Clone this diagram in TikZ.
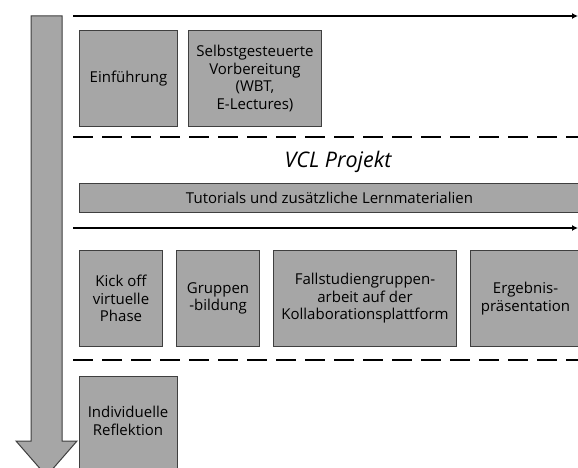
\documentclass[tikz,border=0pt]{standalone}
\usepackage{fontspec}
\setmainfont{Open Sans}
\usetikzlibrary{arrows.meta}
\definecolor{boxgray}{HTML}{A6A6A6}
\definecolor{boxline}{HTML}{3F3F3F}
\tikzset{
  stagebox/.style={draw=boxline, fill=boxgray, line width=1pt, align=center,
    inner sep=0pt, anchor=north west, font=\fontsize{15}{17.4}\selectfont, text=black},
  timeline/.style={line width=2pt, -{Latex[length=6pt,width=6pt]}},
  sepline/.style={line width=2pt, dash pattern=on 20pt off 9pt},
}
\begin{document}
\begin{tikzpicture}[x=1pt,y=-1pt]
\useasboundingbox (0,0) rectangle (578,468);
\clip (0,0) rectangle (578,468);
\fill[white] (0,0) rectangle (578,468);
% big vertical arrow
\draw[draw=boxline, fill=boxgray, line width=1pt]
  (31,16) -- (62,16) -- (62,441) -- (77,441) -- (46.5,476) -- (16,441) -- (31,441) -- cycle;
% top timeline
\coordinate (t1s) at (73,16);
\coordinate (t1e) at (578,16);
\draw[timeline] (t1s) -- (t1e);
\node[stagebox, minimum width=98pt, minimum height=96pt] (einf) at (79,30) {Einführung};
\node[stagebox, minimum width=133pt, minimum height=96pt] (selbst) at (188,30)
  {Selbstgesteuerte\\Vorbereitung\\(WBT,\\E-Lectures)};
% dashed separator 1
\coordinate (d1s) at (73,137);
\coordinate (d1e) at (590,137);
\draw[sepline] (d1s) -- (d1e);
\node[font=\fontsize{21.5}{25}\selectfont\itshape, text=black] (vcl) at (338,162) {VCL Projekt};
\node[stagebox, minimum width=500pt, minimum height=29pt] (tut) at (79,183)
  {Tutorials und zusätzliche Lernmaterialien};
% second timeline
\coordinate (t2s) at (73,228);
\coordinate (t2e) at (578,228);
\draw[timeline] (t2s) -- (t2e);
\node[stagebox, minimum width=83pt, minimum height=96pt] (kick) at (79,250)
  {Kick off\\virtuelle\\Phase};
\node[stagebox, minimum width=83pt, minimum height=96pt] (grup) at (176,250)
  {Gruppen\\-bildung};
\node[stagebox, minimum width=183pt, minimum height=96pt] (fall) at (273,250)
  {Fallstudiengruppen-\\arbeit auf der\\Kollaborationsplattform};
\node[stagebox, minimum width=110pt, minimum height=96pt] (erg) at (470,250)
  {Ergebnis-\\präsentation};
% dashed separator 2
\coordinate (d2s) at (73,360);
\coordinate (d2e) at (590,360);
\draw[sepline] (d2s) -- (d2e);
\node[stagebox, minimum width=98pt, minimum height=110pt] (indiv) at (79,376) {};
\node[font=\fontsize{15}{17.4}\selectfont, align=center, text=black] (indivtxt) at (128,421)
  {Individuelle\\Reflektion};
\end{tikzpicture}
\end{document}
